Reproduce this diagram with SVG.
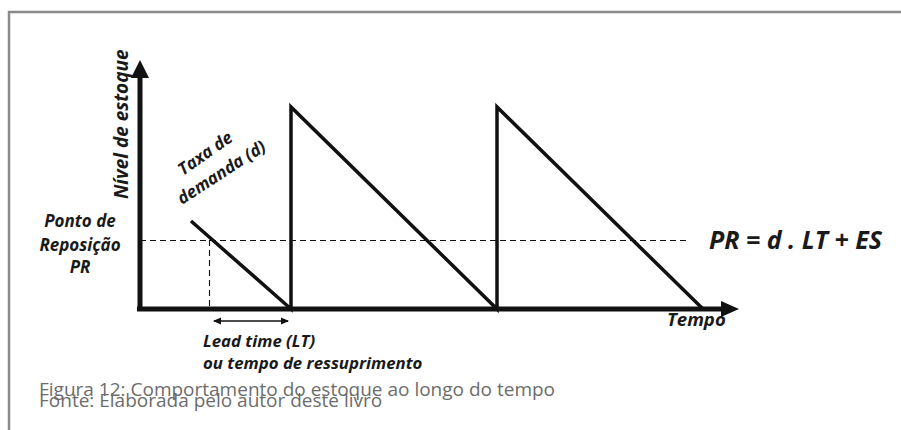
<svg xmlns="http://www.w3.org/2000/svg" width="901" height="430" viewBox="0 0 901 430">
<defs>
<style>
.lbl{font-family:"Open Sans","Noto Sans","Liberation Sans",sans-serif;font-weight:bold;font-style:italic;fill:#1a1a1a}
.cap{font-family:"Open Sans","Noto Sans","Liberation Sans",sans-serif;fill:#6c6c6c;font-size:19px}
.saw{stroke:#111;stroke-width:3.5;fill:none;stroke-linejoin:miter}
.dash{stroke:#111;stroke-width:1.1;stroke-dasharray:6 4;fill:none}
</style>
<marker id="ah" markerWidth="8" markerHeight="8" refX="7" refY="4" orient="auto-start-reverse" markerUnits="userSpaceOnUse">
<path d="M0,0.5 L8,4 L0,7.5 Z" fill="#111"/>
</marker>
</defs>
<rect width="901" height="430" fill="#fff"/>
<g id="frame">
<path d="M9,430 V12 H901" stroke="#8a8a8a" stroke-width="2.5" fill="none"/>
</g>
<g id="axes">
<line x1="140" y1="311" x2="140" y2="76" stroke="#111" stroke-width="5"/>
<polygon points="140,60 131,78 149,78" fill="#111"/>
<line x1="137" y1="309" x2="722" y2="309" stroke="#111" stroke-width="5"/>
<polygon points="739,309 721,301 721,317" fill="#111"/>
</g>
<g id="connectors">
<polyline class="saw" points="191,221 291,309 291,107 497,309 497,107 703,309"/>
<line class="dash" x1="140" y1="240.5" x2="688" y2="240.5"/>
<line class="dash" x1="209.5" y1="240" x2="209.5" y2="307"/>
<line x1="214" y1="321" x2="288" y2="321" stroke="#111" stroke-width="1.3" marker-start="url(#ah)" marker-end="url(#ah)"/>
</g>
<g id="y-label">
<text class="lbl" font-size="19" transform="translate(128,199) rotate(-90)">Nível de estoque</text>
</g>
<g id="taxa-label">
<text class="lbl" font-size="17" transform="translate(183,176) rotate(-35)">Taxa de</text>
<text class="lbl" font-size="17" transform="translate(182,205) rotate(-33)">demanda (d)</text>
</g>
<g id="pr-label">
<text class="lbl" font-size="17" text-anchor="middle" x="80" y="227">Ponto de</text>
<text class="lbl" font-size="17" text-anchor="middle" x="80" y="251">Reposição</text>
<text class="lbl" font-size="17" text-anchor="middle" x="80" y="273">PR</text>
</g>
<g id="formula">
<text class="lbl" font-size="25" x="709" y="249">PR = d . LT + ES</text>
</g>
<g id="x-label">
<text class="lbl" font-size="18.5" x="667" y="326">Tempo</text>
</g>
<g id="lt-label">
<text class="lbl" font-size="16.8" x="203" y="347">Lead time (LT)</text>
<text class="lbl" font-size="16.8" x="203" y="369">ou tempo de ressuprimento</text>
</g>
<g id="caption">
<text class="cap" x="39" y="396">Figura 12: Comportamento do estoque ao longo do tempo</text>
<text class="cap" x="39" y="407">Fonte: Elaborada pelo autor deste livro</text>
</g>
</svg>
